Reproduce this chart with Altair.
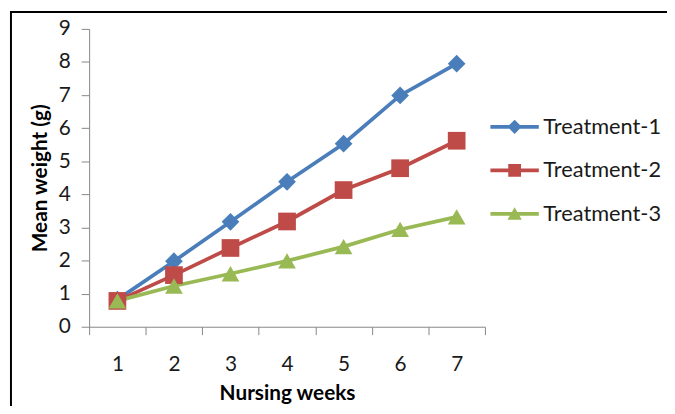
import altair as alt
import pandas as pd

weeks = ["1", "2", "3", "4", "5", "6", "7"]
series_names = ["Treatment-1", "Treatment-2", "Treatment-3"]
t1 = [0.82, 1.98, 3.17, 4.38, 5.53, 6.99, 7.95]
t2 = [0.78, 1.56, 2.38, 3.18, 4.13, 4.79, 5.62]
t3 = [0.78, 1.23, 1.60, 1.99, 2.42, 2.94, 3.32]
colors = ["#4A7EBB", "#BE4B48", "#98B954"]
plot_shapes = ["diamond", "square", "triangle-up"]
y_ticks = list(range(0, 10))

# legend symbols: a line with the marker on it (custom SVG paths)
legend_shapes = [
    "M-1.63,-0.13 H1.63 V0.13 H-1.63 Z M0,-0.48 L0.48,0 L0,0.48 L-0.48,0 Z",
    "M-1.63,-0.13 H1.63 V0.13 H-1.63 Z M-0.43,-0.43 H0.43 V0.43 H-0.43 Z",
    "M-1.63,-0.13 H1.63 V0.13 H-1.63 Z M0,-0.45 L0.48,0.4 L-0.48,0.4 Z",
]

rows = []
for name, vals in zip(series_names, [t1, t2, t3]):
    for w, v in zip(weeks, vals):
        rows.append({"week": w, "series": name, "weight": v})
df = pd.DataFrame(rows)

FONT = "Lato"
AXIS_GREY = "#868686"

x_enc = alt.X(
    "week:O",
    sort=weeks,
    bandPosition=0.5,
    scale=alt.Scale(type="band", domain=weeks, paddingInner=0, paddingOuter=0),
    axis=alt.Axis(
        title="Nursing weeks",
        tickBand="extent",
        labelAngle=0,
        labelPadding=19,
        titlePadding=9,
    ),
)
y_enc = alt.Y(
    "weight:Q",
    scale=alt.Scale(domain=[0, 9], nice=False, zero=True),
    axis=alt.Axis(
        title="Mean weight (g)",
        values=y_ticks,
        grid=False,
        labelPadding=11,
        titlePadding=8,
    ),
)

base = alt.Chart(df)

series_layers = []
for name, col in zip(series_names, colors):
    series_layers.append(
        base.transform_filter(alt.datum.series == name)
        .mark_line(strokeWidth=3.75, color=col)
        .encode(x=x_enc, y=y_enc)
    )
for name, col, shp in zip(series_names, colors, plot_shapes):
    series_layers.append(
        base.transform_filter(alt.datum.series == name)
        .mark_point(filled=True, opacity=1, shape=shp, size=320, strokeWidth=0, color=col)
        .encode(x=x_enc, y=y_enc)
    )

legend_def = alt.Legend(
    title=None,
    orient="none",
    legendX=415,
    legendY=84,
    symbolSize=900,
    symbolStrokeWidth=0,
    symbolOpacity=1,
    labelFont=FONT,
    labelFontSize=22,
    labelColor="#1a1a1a",
    labelOffset=14,
    rowPadding=18,
    padding=0,
)

legend_layer = (
    base.transform_filter("false")
    .mark_point(filled=True, opacity=1)
    .encode(
        x=x_enc,
        y=y_enc,
        color=alt.Color(
            "series:N",
            scale=alt.Scale(domain=series_names, range=colors),
            legend=legend_def,
        ),
        shape=alt.Shape(
            "series:N",
            scale=alt.Scale(domain=series_names, range=legend_shapes),
            legend=legend_def,
        ),
    )
)

frame_df = pd.DataFrame({"k": [0]})
frame_left = alt.Chart(frame_df).mark_rule(color="black", strokeWidth=2).encode(
    x=alt.value(-79), y=alt.value(-18), y2=alt.value(400)
)
frame_top = alt.Chart(frame_df).mark_rule(color="black", strokeWidth=2).encode(
    x=alt.value(-80), x2=alt.value(600), y=alt.value(-17)
)

chart = (
    alt.layer(frame_left, frame_top, *series_layers, legend_layer)
    .properties(
        width=400,
        height=301,
        padding={"left": 82, "top": 19, "right": 184, "bottom": 78},
        autosize=alt.AutoSizeParams(type="none"),
    )
    .configure_view(stroke=None)
    .configure_axis(
        domainColor=AXIS_GREY,
        tickColor=AXIS_GREY,
        tickSize=8,
        domainWidth=1,
        tickWidth=1,
        labelFont=FONT,
        labelFontSize=21,
        labelColor="#1a1a1a",
        titleFont=FONT,
        titleFontSize=21,
        titleFontWeight="bold",
        titleColor="#000000",
    )
)

chart.save("out.html", embed_options={"renderer": "svg", "actions": False})
